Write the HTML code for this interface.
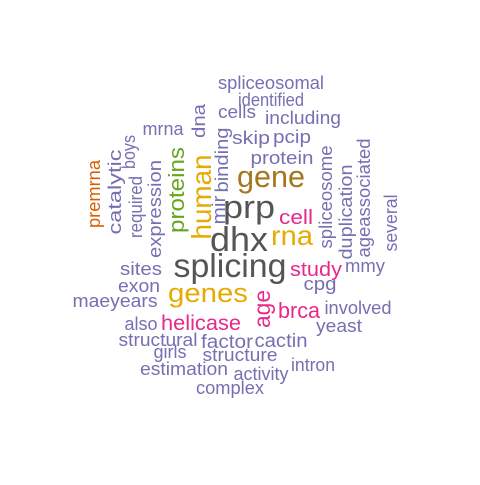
<!DOCTYPE html>
<html><head><meta charset="utf-8"><style>
html,body{margin:0;padding:0;background:#fff;}
svg text{font-family:"Liberation Sans",Arial,sans-serif;}
</style></head><body>
<svg id="cloud" width="480" height="480" viewBox="0 0 480 480"></svg>
<script>
const words = ["spliceosomal","identified","cells","including","skip","pcip","protein","gene","prp","cell","dhx","rna","splicing","study","mmy","sites","exon","maeyears","genes","cpg","brca","involved","also","helicase","yeast","structural","factor","cactin","girls","structure","intron","estimation","activity","complex","mrna",
"premrna","catalytic","boys","required","expression","dna","proteins","human","binding","mir","spliceosome","duplication","ageassociated","several","age"];
const colors = ["#7570B3","#7570B3","#7570B3","#7570B3","#7570B3","#7570B3","#7570B3","#A6761D","#555555","#E7298A","#555555","#E6AB02","#555555","#E7298A","#7570B3","#7570B3","#7570B3","#7570B3","#E6AB02","#7570B3","#E7298A","#7570B3","#7570B3","#E7298A","#7570B3","#7570B3","#7570B3","#7570B3","#7570B3","#7570B3","#7570B3","#7570B3","#7570B3","#7570B3","#7570B3",
"#D95F02","#7570B3","#7570B3","#7570B3","#7570B3","#7570B3","#66A61E","#E6AB02","#7570B3","#7570B3","#7570B3","#7570B3","#7570B3","#7570B3","#E7298A"];
const sizes = [18,18,18,18,18,18,18,31,32,20,34,28,33,20,18,18,18,18,27,18,22,18,18,21,18,18,19,19,18,18,18,18,18,18,18,
18,18,18,18,18,18,22,28,18,18,18,18,18,18,23];
const rotated = [0,0,0,0,0,0,0,0,0,0,0,0,0,0,0,0,0,0,0,0,0,0,0,0,0,0,0,0,0,0,0,0,0,0,0,
1,1,1,1,1,1,1,1,1,1,1,1,1,1,1];
const cx = [271,271,237,303,251,292,282,271,249,296,239,292,230,316,365,141,139,115,208,320,299,358,141,201,339,158,227,281,170,240,313,184,261,230,163,
100,121,135,142,161,205,184,211,228,225,332,352,370,397,270];
const cy = [89,106,118,124,144,143,164,187,218,224,251,245,277,276,272,275,292,307,302,290,318,314,330,330,332,346,348,347,358,361,371,375,380,394,135,
194,192,152,207,209,121,190,197,160,210,197,212,198,223,309];
const lens = [106,66,38,76,38,38,63,68,52,34,58,42,113,52,40,42,42,85,80,33,42,67,33,80,46,79,52,53,33,75,44,88,55,68,41,
68,85,34,62,98,34,86,85,65,29,103,95,119,57,38];

const svg = document.getElementById('cloud');
const NS = 'http://www.w3.org/2000/svg';
for (let i = 0; i < words.length; i++) {
  const t = document.createElementNS(NS, 'text');
  t.textContent = words[i];
  t.setAttribute('fill', colors[i]);
  t.setAttribute('font-size', sizes[i]);
  t.setAttribute('text-anchor', 'middle');
  t.setAttribute('textLength', lens[i]);
  t.setAttribute('lengthAdjust', 'spacingAndGlyphs');
  if (rotated[i]) {
    t.setAttribute('x', 0);
    t.setAttribute('y', 0);
    t.setAttribute('transform', 'translate(' + cx[i] + ',' + cy[i] + ') rotate(-90)');
  } else {
    t.setAttribute('x', cx[i]);
    t.setAttribute('y', cy[i]);
  }
  
  
  svg.appendChild(t);
}
</script>
</body></html>
